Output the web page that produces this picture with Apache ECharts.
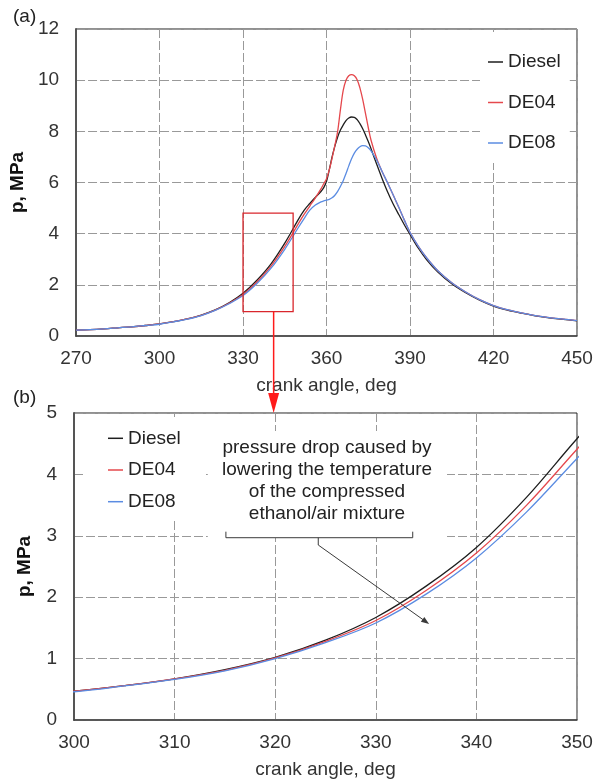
<!DOCTYPE html>
<html><head><meta charset="utf-8">
<script src="https://cdn.jsdelivr.net/npm/echarts@6/dist/echarts.min.js"></script>
<style>html,body{margin:0;padding:0;background:#fff}#c{width:603px;height:783px}</style>
</head><body><div id="c"></div>
<script>
// crank angle, deg
const angle = [270,275,280,285,290,295,300,305,310,315,320,325,330,335,340,345,350,352,354,356,358,359,
  360,361,362,363,364,365,366,367,368,369,370,371,372,373,374,375,376,378,380,382,384,386,388,390,393,396,400,405,410,415,420,
  425,430,435,440,445,450];
// pressure, MPa
const diesel = [0.23,0.25,0.28,0.32,0.36,0.41,0.47,0.56,0.67,0.82,1.02,1.30,1.67,2.18,2.81,3.63,4.58,
  4.92,5.18,5.42,5.65,5.80,6.05,6.50,7.00,7.42,7.78,8.05,8.25,8.42,8.52,8.56,8.55,8.46,8.30,8.10,7.86,7.60,7.32,
  6.72,6.15,5.62,5.15,4.74,4.34,3.97,3.43,2.98,2.50,2.04,1.69,1.40,1.17,1.01,0.89,0.79,0.71,0.65,0.59];
const de04 = [0.23,0.25,0.28,0.32,0.36,0.41,0.47,0.56,0.67,0.81,1.01,1.28,1.62,2.11,2.72,3.50,4.41,
  4.76,5.08,5.40,5.75,5.95,6.15,6.50,6.95,7.45,8.00,8.85,9.60,10.00,10.17,10.22,10.17,10.02,9.70,9.25,8.70,8.15,7.65,
  6.95,6.42,5.97,5.50,5.02,4.52,4.05,3.50,3.05,2.55,2.08,1.72,1.42,1.19,1.03,0.90,0.80,0.72,0.66,0.60];
const de08 = [0.23,0.25,0.28,0.32,0.36,0.41,0.46,0.555,0.66,0.80,1.00,1.26,1.58,2.05,2.64,3.39,4.26,
  4.60,4.92,5.12,5.24,5.28,5.31,5.34,5.40,5.50,5.65,5.85,6.07,6.35,6.65,6.93,7.15,7.30,7.40,7.44,7.43,7.36,7.24,
  6.88,6.42,5.97,5.50,5.02,4.52,4.05,3.50,3.05,2.55,2.08,1.72,1.42,1.19,1.03,0.90,0.80,0.72,0.66,0.60];

const names = ['Diesel','DE04','DE08'];
const values = [diesel, de04, de08];
const colors = ['#1e1e1e','#e5484d','#5b8ce2'];
const noteLines = ['pressure drop caused by','lowering the temperature','of the compressed','ethanol/air mixture'];

const FONT = "'Liberation Sans', Arial, sans-serif";
const zip = arr => angle.map((a,i)=>[a, arr[i]]);

function xAx(gi, min, max, interval){
  return {gridIndex:gi, type:'value', min, max, interval,
    name:'crank angle, deg', nameLocation:'middle', nameGap:40,
    nameTextStyle:{fontSize:19, color:'#333', fontFamily:FONT},
    axisLine:{show:true, onZero:false, lineStyle:{color:'#444', width:1.5}},
    axisTick:{show:false},
    axisLabel:{margin:13, fontSize:19, color:'#333', fontFamily:FONT},
    splitLine:{show:true, lineStyle:{color:'#999', type:[9,3], width:1}}};
}
function yAx(gi, min, max, interval){
  return {gridIndex:gi, type:'value', min, max, interval,
    name:'p, MPa', nameLocation:'middle', nameGap:40,
    nameTextStyle:{fontSize:19, color:'#111', fontWeight:'bold', fontFamily:FONT},
    axisLine:{show:true, lineStyle:{color:'#555', width:2}},
    axisTick:{show:false},
    axisLabel:{margin:17, fontSize:19, color:'#333', fontFamily:FONT},
    splitLine:{show:true, lineStyle:{color:'#999', type:[9,3], width:1}}};
}
const series = [];
[0,1].forEach(g=>{
  names.forEach((n,i)=>{
    series.push({type:'line', name:n, xAxisIndex:g, yAxisIndex:g, data:zip(values[i]),
      symbol:'none', showSymbol:false, smooth:0.35, clip:true,
      lineStyle:{color:colors[i], width:1.3}, itemStyle:{color:colors[i]}});
  });
});
function legend(left, top, gap, padding){
  return {data:names, orient:'vertical', left, top, icon:'rect', itemWidth:15, itemHeight:1.5,
    itemGap:gap, padding, backgroundColor:'#fff',
    textStyle:{fontSize:19, color:'#222', lineHeight:20, fontFamily:FONT}};
}
const option = {
  animation:false,
  backgroundColor:'#fff',
  textStyle:{fontFamily:FONT},
  title:[
    {text:'(a)', left:13, top:7, padding:0, textStyle:{fontSize:19, fontWeight:'normal', color:'#222', fontFamily:FONT}},
    {text:'(b)', left:13, top:388, padding:0, textStyle:{fontSize:19, fontWeight:'normal', color:'#222', fontFamily:FONT}}
  ],
  grid:[
    {left:74, top:29, width:503, height:307, show:true, borderColor:'#222', borderWidth:1, backgroundColor:'transparent'},
    {left:74, top:413, width:503, height:307, show:true, borderColor:'#222', borderWidth:1, backgroundColor:'transparent'}
  ],
  xAxis:[xAx(0,270,450,30), xAx(1,300,350,10)],
  yAxis:[yAx(0,0,12,2), yAx(1,0,5,1)],
  legend:[legend(480,32,20.5,[20,9,10,8]), legend(85,417,11.7,[11.3,24,6.3,23])],
  series
};
const chart = echarts.init(document.getElementById('c'), null, {renderer:'canvas'});
chart.setOption(option);

const pa = (x,y)=>chart.convertToPixel({xAxisIndex:0, yAxisIndex:0},[x,y]);
const pb = (x,y)=>chart.convertToPixel({xAxisIndex:1, yAxisIndex:1},[x,y]);

const els = [];
// zoom rectangle in (a)
const r1 = pa(330,4.8), r2 = pa(348,0.95);
els.push({type:'rect', z:20, shape:{x:r1[0], y:r1[1], width:r2[0]-r1[0], height:r2[1]-r1[1]},
  style:{fill:'none', stroke:'#d9262c', lineWidth:1.3}});
// red arrow down to (b)
const aTop = pa(341,0.95), bTop = pb(300,5)[1];
els.push({type:'line', z:20, shape:{x1:aTop[0], y1:aTop[1], x2:aTop[0], y2:bTop-18}, style:{stroke:'#ff1a1a', lineWidth:1.5}});
els.push({type:'polygon', z:20, shape:{points:[[aTop[0]-5.5,bTop-20],[aTop[0]+5.5,bTop-20],[aTop[0],bTop]]}, style:{fill:'#ff1a1a'}});
// annotation box in (b)
const w1 = pb(313.3,4.707), w2 = pb(337.08,2.964);
els.push({type:'rect', z:3, shape:{x:w1[0], y:w1[1], width:w2[0]-w1[0], height:w2[1]-w1[1]}, style:{fill:'#fff'}});
const tc = pb(325.15,3.896);
els.push({type:'text', z:21, x:tc[0], y:tc[1], style:{text:noteLines.join('\n'), font:"19px "+FONT, fill:'#222',
  align:'center', verticalAlign:'middle', textAlign:'center', textVerticalAlign:'middle', lineHeight:22}});
// bracket
const bl = pb(315.1,3.067), blb = pb(315.1,2.969), brb = pb(333.67,2.969), br = pb(333.67,3.067);
els.push({type:'polyline', z:21, shape:{points:[bl,blb,brb,br]}, style:{stroke:'#3a3a3a', lineWidth:1, fill:null}});
const m1 = pb(324.28,2.969), m2 = pb(324.28,2.85);
els.push({type:'line', z:21, shape:{x1:m1[0], y1:m1[1], x2:m2[0], y2:m2[1]}, style:{stroke:'#3a3a3a', lineWidth:1}});
// pointer arrow
const E = pb(335.3,1.564);
const dx = E[0]-m2[0], dy = E[1]-m2[1], L = Math.hypot(dx,dy), ux = dx/L, uy = dy/L;
els.push({type:'line', z:21, shape:{x1:m2[0], y1:m2[1], x2:E[0]-ux*6, y2:E[1]-uy*6}, style:{stroke:'#3a3a3a', lineWidth:1}});
els.push({type:'polygon', z:21, shape:{points:[[E[0],E[1]],[E[0]-ux*8-uy*3,E[1]-uy*8+ux*3],[E[0]-ux*8+uy*3,E[1]-uy*8-ux*3]]}, style:{fill:'#3a3a3a'}});
chart.setOption({graphic:{elements:els}});
</script></body></html>
